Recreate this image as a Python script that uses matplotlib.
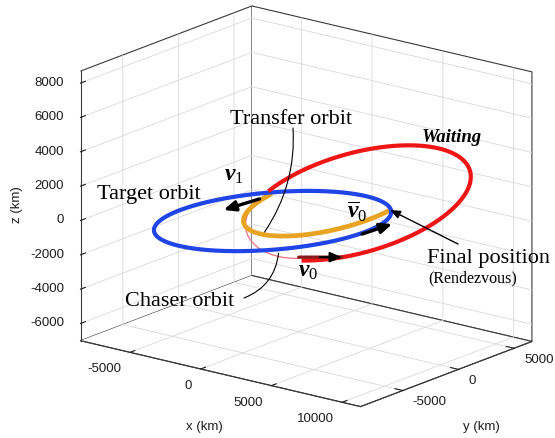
import numpy as np
import matplotlib.pyplot as plt
from mpl_toolkits.mplot3d import proj3d

plt.rcParams['font.family'] = ['Liberation Sans', 'DejaVu Sans']
plt.rcParams['axes.unicode_minus'] = False
plt.rcParams['grid.color'] = '#d9d9d9'
plt.rcParams['grid.linewidth'] = 0.6
plt.rcParams['mathtext.fontset'] = 'custom'
plt.rcParams['mathtext.rm'] = 'Liberation Serif'
plt.rcParams['mathtext.it'] = 'Liberation Serif:italic'
plt.rcParams['mathtext.bf'] = 'Liberation Serif:bold'
plt.rcParams['mathtext.bfit'] = 'Liberation Serif:italic:bold'

# axes ranges and ticks (km)
x_lim = [-8500, 11300]
y_lim = [-8800, 6600]
z_lim = [-7000, 8700]
x_ticks = [-5000, 0, 5000, 10000]
y_ticks = [-5000, 0, 5000]
z_ticks = [-6000, -4000, -2000, 0, 2000, 4000, 6000, 8000]

# orbits: centre, two conjugate semi-axis vectors (km), arc in degrees
target_center = [-900, -1200, -430]
target_a = [4140, 5400, 0]
target_b = [-3300, 4200, 0]
target_arc = [0, 360]

transfer_center = [2530, -400, 1120]
transfer_a = [3500, 970, 0]
transfer_b = [1060, -6920, 0]
transfer_arc = [0, 180]

chaser_center = [1220, -1270, 0]
chaser_a = [-2000, -2520, 0]
chaser_b = [-4270, 5430, 0]
chaser_arc = [55, -87]

waiting_center = [1560, 3270, 0]
waiting_a = [8040, 0, 3080]
waiting_b = [0, 0, 2990]
waiting_arc = [140, -118]

# velocity vectors drawn as arrows: tail, tip (km)
v1_tail = [-3160, 505, 0]
v1_tip = [-3470, -2350, 0]
v0bar_tail = [5355, -1107, 0]
v0bar_tip = [5520, 1400, 0]
v0_tail = [5245, -6660, 0]
v0_tip = [7130, -5175, 0]
v0_head = [6165, -5936, 0]

# points the labels refer to
final_point = [6030, 570, 1120]
transfer_ptr = [866, -4167, 0]
chaser_ptr = [3904, -6766, 0]


def orbit(center, a, b, arc, n=400):
    t = np.radians(np.linspace(arc[0], arc[1], n))
    c, a, b = np.array(center), np.array(a), np.array(b)
    return c[:, None] + a[:, None] * np.cos(t) + b[:, None] * np.sin(t)


W, H = 555, 438


def fpos(x, y):
    return (x / W, 1 - y / H)


fig = plt.figure(figsize=(W / 100, H / 100), dpi=100)
ax = fig.add_axes([0.0734, -0.0771, 0.9315, 1.1804], projection='3d',
                  proj_type='ortho', computed_zorder=False)
ax.view_init(elev=17.4, azim=-51.8)
ax.set_xlim(x_lim)
ax.set_ylim(y_lim)
ax.set_zlim(z_lim)
ax.set_box_aspect((np.ptp(x_lim), np.ptp(y_lim), np.ptp(z_lim)))
ax.set_xticks(x_ticks)
ax.set_yticks(y_ticks)
ax.set_zticks(z_ticks)
ax.zaxis.set_ticks_position('lower')
ax.tick_params(labelsize=9.5, colors='#1e1e1e')
ax.tick_params(axis='x', pad=1.8)
ax.tick_params(axis='y', pad=-1.2)
ax.tick_params(axis='z', pad=-1)

for axis, ha in ((ax.xaxis, 'right'), (ax.yaxis, 'left'), (ax.zaxis, 'right')):
    for lab in axis.get_ticklabels():
        lab.set_ha(ha)
        lab.set_va('center')

for axis in (ax.xaxis, ax.yaxis, ax.zaxis):
    axis.set_pane_color((1, 1, 1, 1))
    axis.pane.set_edgecolor('#3a3a3a')
    axis.pane.set_linewidth(0.8)
    axis.line.set_color('#3a3a3a')
    axis.line.set_linewidth(0.8)
    axis._axinfo['tick']['inward_factor'] = 0.0
    axis._axinfo['tick']['outward_factor'] = 0.35
ax.grid(True)

# axis titles
fig.text(*fpos(204, 427), 'x (km)', fontsize=9.5, color='#1e1e1e', ha='center', va='center')
fig.text(*fpos(481, 427), 'y (km)', fontsize=9.5, color='#1e1e1e', ha='center', va='center')
fig.text(*fpos(17, 205), 'z (km)', fontsize=9.5, color='#1e1e1e', ha='center', va='center',
         rotation=90)

# orbits
ax.plot(*orbit(chaser_center, chaser_a, chaser_b, chaser_arc),
        color='#ef6f7f', lw=0.9, zorder=2)
ax.plot(*orbit(transfer_center, transfer_a, transfer_b, transfer_arc),
        color='#e9a323', lw=3.4, zorder=3)
ax.plot(*orbit(target_center, target_a, target_b, target_arc),
        color='#1f45e8', lw=3.0, zorder=4)
ax.plot(*orbit(waiting_center, waiting_a, waiting_b, waiting_arc),
        color='#f01515', lw=3.0, zorder=5)

M = ax.get_proj()


def to2d(p):
    x, y, _ = proj3d.proj_transform(p[0], p[1], p[2], M)
    return (x, y)


def varrow(tail, tip, color='k', lw=2.4):
    ax.annotate('', xy=to2d(tip), xytext=to2d(tail), zorder=10,
                arrowprops=dict(arrowstyle='-|>,head_length=0.7,head_width=0.3',
                                lw=lw, color=color, shrinkA=0, shrinkB=0,
                                mutation_scale=10))


varrow(v1_tail, v1_tip)
varrow(v0bar_tail, v0bar_tip)
ax.annotate('', xy=to2d(v0_tip), xytext=to2d(v0_tail), zorder=10,
            arrowprops=dict(arrowstyle='-', lw=2.4, color='#8b1a1a',
                            shrinkA=0, shrinkB=0))
varrow(v0_head, v0_tip, lw=1.5)

# labels and leaders
serif = 'Liberation Serif'
ax.annotate('', xy=to2d(transfer_ptr), xytext=fpos(293, 128),
            textcoords='figure fraction', zorder=10,
            arrowprops=dict(arrowstyle='-', lw=0.8, color='k', shrinkA=0, shrinkB=0,
                            connectionstyle='arc3,rad=-0.17'))
ax.annotate('', xy=to2d(chaser_ptr), xytext=fpos(244, 298),
            textcoords='figure fraction', zorder=10,
            arrowprops=dict(arrowstyle='-', lw=0.8, color='k', shrinkA=0, shrinkB=0,
                            connectionstyle='arc3,rad=0.3'))
ax.annotate('', xy=to2d(final_point), xytext=fpos(458, 244),
            textcoords='figure fraction', zorder=10,
            arrowprops=dict(arrowstyle='-|>,head_length=0.6,head_width=0.25',
                            lw=1.0, color='k', shrinkA=0, shrinkB=0))

fig.text(*fpos(291, 124), 'Transfer orbit', family=serif, fontsize=16,
         ha='center', va='baseline')
fig.text(*fpos(97, 199), 'Target orbit', family=serif, fontsize=16, va='baseline')
fig.text(*fpos(125, 306), 'Chaser orbit', family=serif, fontsize=16, va='baseline')
fig.text(*fpos(427, 263), 'Final position', family=serif, fontsize=16, va='baseline')
fig.text(*fpos(428, 282), '(Rendezvous)', family=serif, fontsize=11.5, va='baseline')
fig.text(*fpos(422, 142), 'Waiting', family=serif, fontsize=13.5,
         style='italic', weight='bold', va='baseline')
fig.text(*fpos(224, 181), r'$\mathbfit{v}_1$', fontsize=17, va='baseline')
fig.text(*fpos(347, 219), r'$\overline{\mathbfit{v}}_0$', fontsize=17, va='baseline')
fig.text(*fpos(298, 277), r'$\mathbfit{v}_0$', fontsize=17, va='baseline')

fig.savefig('out.png', dpi=100)
